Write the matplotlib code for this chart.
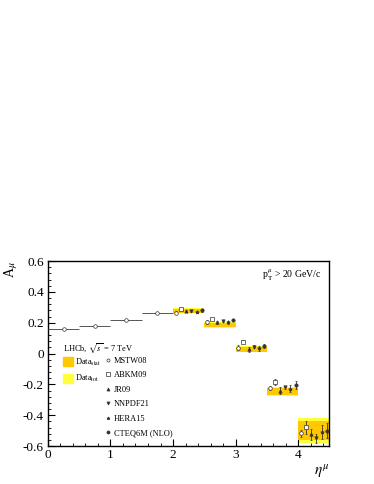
import numpy as np
import matplotlib.pyplot as plt
from matplotlib.patches import Patch
from matplotlib.lines import Line2D
from matplotlib.ticker import MultipleLocator, FuncFormatter

plt.rcParams['font.family'] = ['Liberation Serif', 'DejaVu Serif']
plt.rcParams['mathtext.fontset'] = 'stix'

# low eta: only the MSTW08 prediction is shown
lo_eta = [0.25, 0.75, 1.25, 1.75]
lo_mstw = [0.161, 0.181, 0.217, 0.265]
lo_err = [0.004, 0.004, 0.004, 0.004]

# LHCb data bins (lower edges, width 0.5)
bin_lo = [2.0, 2.5, 3.0, 3.5, 4.0]
data_val = [0.278, 0.186, 0.027, -0.245, -0.498]
data_stat = [0.014, 0.015, 0.016, 0.024, 0.062]
data_tot = [0.017, 0.019, 0.020, 0.030, 0.082]

models = ["MSTW08", "ABKM09", "JR09", "NNPDF21", "HERA15", "CTEQ6M (NLO)"]
markers = ["o", "s", "^", "v", "*", "o"]
filled = [False, False, True, True, True, True]

# one list per model, one value per data bin
mstw = [0.265, 0.204, 0.038, -0.222, -0.518]
abkm = [0.289, 0.226, 0.077, -0.183, -0.479]
jr09 = [0.276, 0.204, 0.027, -0.241, -0.525]
nnpdf = [0.278, 0.211, 0.044, -0.220, -0.550]
hera = [0.271, 0.204, 0.033, -0.228, -0.511]
cteq = [0.280, 0.217, 0.050, -0.206, -0.500]
mstw_err = [0.008, 0.012, 0.016, 0.012, 0.022]
abkm_err = [0.008, 0.008, 0.008, 0.018, 0.040]
jr09_err = [0.008, 0.010, 0.014, 0.022, 0.035]
nnpdf_err = [0.006, 0.008, 0.010, 0.012, 0.030]
hera_err = [0.008, 0.010, 0.014, 0.022, 0.045]
cteq_err = [0.008, 0.008, 0.014, 0.025, 0.050]
model_vals = [mstw, abkm, jr09, nnpdf, hera, cteq]
model_errs = [mstw_err, abkm_err, jr09_err, nnpdf_err, hera_err, cteq_err]

orange = '#ffc800'
yellow = '#ffff3c'
ink = '#333333'

fig = plt.figure(figsize=(3.74, 4.84), dpi=100)
ax = fig.add_axes([0.128, 0.0785, 0.753, 0.382])

# data bands
for lo, v, s, t in zip(bin_lo, data_val, data_stat, data_tot):
    ax.fill_between([lo, lo + 0.5], v - t, v + t, color=yellow, lw=0, zorder=1)
    ax.fill_between([lo, lo + 0.5], v - s, v + s, color=orange, lw=0, zorder=2)

# low eta MSTW08
ax.errorbar(lo_eta, lo_mstw, xerr=0.25, yerr=lo_err, fmt='o', ms=2.6, mfc='white',
            mec=ink, ecolor='#555555', elinewidth=0.7, mew=0.5, capsize=0, zorder=3)

# model predictions inside each data bin
sizes = [2.6, 3.0, 2.4, 2.4, 2.8, 2.4]
step = 0.5 / len(models)
for i, (vals, errs) in enumerate(zip(model_vals, model_errs)):
    x = np.array(bin_lo) + (i + 0.5) * step
    ax.errorbar(x, vals, yerr=errs, fmt=markers[i], ms=sizes[i],
                mfc=ink if filled[i] else 'white', mec=ink,
                ecolor=ink, elinewidth=0.6, mew=0.5, capsize=1.0, capthick=0.5,
                zorder=4)

ax.set_xlim(0, 4.5)
ax.set_ylim(-0.6, 0.6)
ax.xaxis.set_major_locator(MultipleLocator(1))
ax.xaxis.set_minor_locator(MultipleLocator(0.2))
ax.yaxis.set_major_locator(MultipleLocator(0.2))
ax.yaxis.set_minor_locator(MultipleLocator(0.04))
ax.yaxis.set_major_formatter(FuncFormatter(lambda v, p: '0' if abs(v) < 1e-9 else f'{v:.1f}'))
ax.tick_params(which='both', direction='in', top=False, right=False, labelsize=9.5)
ax.tick_params(which='major', length=5, width=0.8)
ax.tick_params(which='minor', length=2.5, width=0.6)
ax.tick_params(axis='y', pad=3)
ax.tick_params(axis='x', pad=2)
for sp in ax.spines.values():
    sp.set_linewidth(1.0)

ax.set_ylabel(r'A$_{\mu}$', fontsize=10, loc='top', labelpad=2)
ax.set_xlabel(r'$\eta^{\mu}$', fontsize=11, loc='right', labelpad=1)

ax.text(0.97, 0.924, r'p$_{\rm T}^{\mu}$ > 20 GeV/c', transform=ax.transAxes,
        ha='right', va='center', fontsize=7)
ax.text(0.053, 0.531, r'LHCb, $\sqrt{s}$ = 7 TeV', transform=ax.transAxes,
        ha='left', va='center', fontsize=6)

h1 = [Patch(color=orange), Patch(color=yellow)]
leg1 = ax.legend(h1, [r'Data$_{\rm stat}$', r'Data$_{\rm tot}$'], loc='upper left',
                 bbox_to_anchor=(0.053, 0.484), frameon=False, fontsize=6,
                 handlelength=1.2, handleheight=1.2, handletextpad=0.25,
                 labelspacing=0.66, borderpad=0, borderaxespad=0)
ax.add_artist(leg1)

h2 = [Line2D([], [], ls='none', marker=m, ms=2.2, mfc=ink if f else 'white',
             mec=ink, mew=0.5) for m, f in zip(markers, filled)]
ax.legend(h2, models, loc='upper left', bbox_to_anchor=(0.2, 0.484), frameon=False,
          fontsize=6, handlelength=0.8, handletextpad=0.36, labelspacing=0.78,
          borderpad=0, borderaxespad=0)

fig.savefig('out.png', dpi=100)
